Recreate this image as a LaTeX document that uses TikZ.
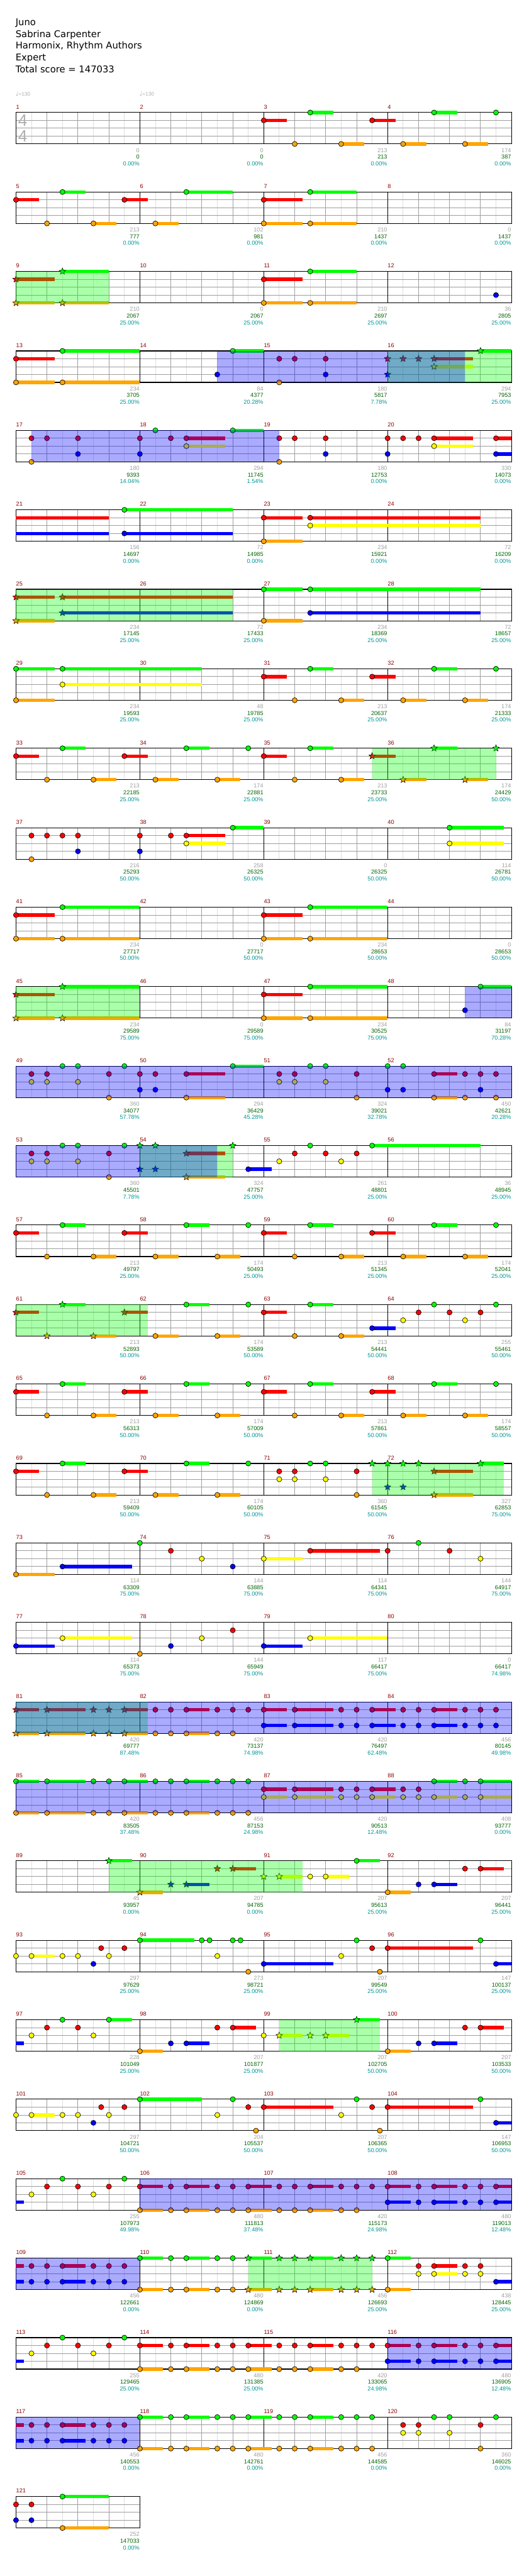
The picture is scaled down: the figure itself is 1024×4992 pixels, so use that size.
\documentclass[tikz,border=0pt]{standalone}
\usepackage{fontspec}
\setmainfont{Liberation Sans}
\newfontfamily\hdrfont{DejaVu Sans}
\usetikzlibrary{shapes.geometric}
\definecolor{lane0}{RGB}{0,255,0}
\definecolor{lane1}{RGB}{255,0,0}
\definecolor{lane2}{RGB}{255,255,0}
\definecolor{lane3}{RGB}{0,0,255}
\definecolor{lane4}{RGB}{255,165,0}
\definecolor{mred}{RGB}{139,0,0}
\definecolor{sgray}{RGB}{160,160,160}
\definecolor{sgreen}{RGB}{0,100,0}
\definecolor{steal}{RGB}{0,150,150}
\definecolor{tgray}{RGB}{175,175,175}
\tikzset{
 halfl/.style={draw=black!13, line width=0.75pt},
 beatl/.style={draw=black!38, line width=0.75pt},
 measl/.style={draw=black, line width=0.75pt},
 frame/.style={draw=black, line width=1pt},
 sus/.style={line width=4.9pt, line cap=butt},
 note/.style={circle, draw=black, line width=0.6pt, minimum size=7.4pt, inner sep=0pt},
 starnote/.style={star, star points=5, star point ratio=2.3, draw=black, line width=0.5pt, minimum size=10pt, inner sep=0pt},
 mnum/.style={anchor=base west, inner sep=0pt, text=mred, font=\fontsize{8.4}{10}\selectfont},
 scr/.style={anchor=base east, inner sep=0pt, font=\fontsize{8.4}{10}\selectfont},
 hdr/.style={anchor=base west, inner sep=0pt, font=\hdrfont\fontsize{13.5}{16}\selectfont},
}
\newcommand\setpos[3]{%
 \pgfmathsetmacro\gb{4*(#1-1)+#2}%
 \pgfmathtruncatemacro\rr{\gb/16}%
 \pgfmathsetmacro\px{31+60*(\gb-16*\rr)}%
 \pgfmathsetmacro\py{218+154*\rr+15.25*#3}}
\newcommand\staffrow[2]{%
 \pgfmathsetmacro\T{218+154*#1}%
 \pgfmathsetmacro\B{\T+61}%
 \pgfmathsetmacro\R{31+240*#2}%
 \pgfmathtruncatemacro\nb{4*#2-1}%
 \foreach \k in {0,...,\nb} {\draw[halfl] ({61+60*\k},\T) -- ({61+60*\k},\B);}%
 \foreach \k in {1,...,\nb} {\draw[beatl] ({31+60*\k},\T) -- ({31+60*\k},\B);}%
 \foreach \i in {1,2,3} {\draw[beatl] (31,{\T+15.25*\i}) -- (\R,{\T+15.25*\i});}%
 \foreach \j in {1,...,#2} {\draw[measl] ({31+240*\j},\T) -- ({31+240*\j},\B);}%
 \draw[frame] (31,\T) rectangle (\R,\B);}
\newcommand\ovl[4]{\fill[#1, fill opacity=0.333] (#3,{218+154*#2}) rectangle (#4,{279+154*#2});}
% patterns
\def\pA#1#2{#1/0/1/0.75/#2,#1/1/4/0/#2,#1/1.5/0/0.75/#2,#1/2.5/4/0.75/#2,#1/3.5/1/0.75/#2}
\def\pB#1#2{#1/0.5/4/0.75/#2,#1/1.5/0/0.75/#2,#1/2.5/4/0.75/#2,#1/3.5/0/0/#2}
\def\pC#1{#1/0.5/1/0/0,#1/1/1/0/0,#1/2/1/0/0,#1/2/3/0/0,#1/0.5/4/0/0}
\def\pD#1#2{#1/0/4/0.75/#2,#1/1/3/0/#2,#1/1.5/3/0.75/#2,#1/2.5/1/0/#2,#1/3/1/0.75/#2}
\def\pE#1#2#3#4#5#6{#1/0/#2/1.25/#6,#1/0/4/1.25/#6,#1/1.5/#3/#5/#6,#1/1.5/#4/#5/#6}
\def\pF#1{#1/0.5/1/0/0,#1/1/1/0/0,#1/3/1/0/0,#1/0.5/2/0/0,#1/1/2/0/0,#1/2/2/0/0,#1/1.5/0/0/0,#1/2/0/0/0,#1/3/4/0/0}
\def\pG#1{#1/0/2/0/0,#1/0.5/2/0.75/0,#1/1.5/2/0/0,#1/2/2/0/0,#1/2.5/3/0/0,#1/2.75/1/0/0,#1/3/2/0/0,#1/3.5/1/0/0}
\def\qa#1#2#3{#1/0/#2/0.75/#3,#1/1/#2/1.25/#3,#1/2.5/#2/0/#3,#1/3/#2/0/#3,#1/3.5/#2/0.75/#3}
\def\qn#1#2#3{#1/0.5/#2/0/#3,#1/1/#2/0/#3,#1/1.5/#2/0.75/#3,#1/2.5/#2/0/#3,#1/3/#2/0/#3}
\def\qb#1#2#3{\qn{#1}{#2}{#3},#1/3.5/#2/0/#3}
\def\qc#1#2#3{#1/0/#2/0.75/#3,#1/1/#2/0/#3,#1/1.5/#2/0.75/#3,#1/2.5/#2/0/#3,#1/3/#2/0/#3,#1/3.5/#2/0.75/#3}
\edef\notelist{%
\pA{3}{0},\pB{4}{0},%
\pA{5}{0},6/0.5/4/0.75/0,6/1.5/0/1.5/0,\pE{7}{1}{0}{4}{1.5}{0},%
\pE{9}{1}{0}{4}{1.5}{1},\pE{11}{1}{0}{4}{1.5}{0},12/3.5/3/0/0,%
\pE{13}{1}{0}{4}{2.5}{0},14/2.5/3/0/0,14/3/0/1/0,\pC{15},%
16/0/1/0/1,16/0/3/0/1,16/0.5/1/0/1,16/1/1/0/1,16/1.5/1/1.25/1,16/1.5/2/1.25/1,16/3/0/1/1,%
\pC{17},18/0/1/0/0,18/1/1/0/0,18/1.5/1/1.25/0,18/0/3/0/0,18/0.5/0/0/0,18/1.5/2/1.25/0,18/3/0/1/0,%
\pC{19},20/0/1/0/0,20/0.5/1/0/0,20/1/1/0/0,20/1.5/1/1.25/0,20/0/3/0/0,20/1.5/2/1.25/0,20/3.5/1/0.5/0,20/3.5/3/0.5/0,%
21/0/1/3/2,21/0/3/3/2,21/3.5/0/3.5/0,21/3.5/3/3.5/0,\pE{23}{1}{1}{2}{5.5}{0},%
\pE{25}{1}{1}{3}{5.5}{1},\pE{27}{0}{0}{3}{5.5}{0},%
\pE{29}{0}{0}{2}{4.5}{0},\pA{31}{0},\pB{32}{0},%
\pA{33}{0},\pB{34}{0},35/0/1/0.75/0,35/1/4/0/0,35/1.5/0/0.75/0,35/2.5/4/0.75/0,35/3.5/1/0.75/1,\pB{36}{1},%
37/0.5/1/0/0,37/1/1/0/0,37/1.5/1/0/0,37/2/1/0/0,37/2/3/0/0,37/0.5/4/0/0,%
38/0/1/0/0,38/1/1/0/0,38/1.5/1/1.25/0,38/0/3/0/0,38/1.5/2/1.25/0,38/3/0/1/0,40/2/0/1.75/0,40/2/2/1.75/0,%
\pE{41}{1}{0}{4}{2.5}{0},\pE{43}{1}{0}{4}{2.5}{0},%
\pE{45}{1}{0}{4}{2.5}{1},\pE{47}{1}{0}{4}{2.5}{0},48/2.5/3/0/0,48/3/0/1/0,%
\pF{49},49/3.5/0/0/0,50/0/1/0/0,50/0.5/1/0/0,50/1.5/1/1.25/0,50/0/3/0/0,50/0.5/3/0/0,50/1.5/4/1.25/0,50/3/0/1/0,%
\pF{51},52/0/0/0/0,52/0.5/0/0/0,52/0/3/0/0,52/0.5/3/0/0,52/1.5/1/0.75/0,52/1.5/4/0.75/0,52/2.5/1/0/0,52/3/1/0/0,52/3.5/1/0/0,52/3/3/0/0,52/2.5/4/0/0,52/3.5/4/0/0,%
\pF{53},53/3.5/0/0/0,54/0/0/0/1,54/0.5/0/0/1,54/0/3/0/1,54/0.5/3/0/1,54/1.5/1/1.25/1,54/1.5/4/1.25/1,54/3/0/0/1,54/3.5/3/0.75/0,%
55/0.5/2/0/0,55/1/1/0/0,55/1.5/0/0/0,55/2/1/0/0,55/2.5/2/0/0,55/3/1/0/0,55/3.5/0/3.5/0,%
\pA{57}{0},\pB{58}{0},\pA{59}{0},\pB{60}{0},%
\pA{61}{1},\pB{62}{0},63/0/1/0.75/0,63/1/4/0/0,63/1.5/0/0.75/0,63/2.5/4/0.75/0,63/3.5/3/0.75/0,%
64/0.5/2/0/0,64/1/1/0/0,64/1.5/0/0/0,64/2/1/0/0,64/2.5/2/0/0,64/3/1/0/0,64/3.5/0/0/0,%
\pA{65}{0},\pB{66}{0},\pA{67}{0},\pB{68}{0},%
\pA{69}{0},\pB{70}{0},\pF{71},71/3.5/0/0/1,%
72/0/0/0/1,72/0.5/0/0/1,72/1/0/0/1,72/0/3/0/1,72/0.5/3/0/1,72/1.5/1/1.25/1,72/1.5/4/1.25/1,72/3/0/0.75/1,%
73/0/4/1.25/0,73/1.5/3/2.25/0,74/0/0/0/0,74/1/1/0/0,74/2/2/0/0,74/3/3/0/0,%
75/0/2/1.25/0,75/1.5/1/2.25/0,76/0/1/0/0,76/1/0/0/0,76/2/1/0/0,76/3/2/0/0,%
77/0/3/1.25/0,77/1.5/2/2.25/0,78/0/4/0/0,78/1/3/0/0,78/2/2/0/0,78/3/1/0/0,79/0/3/1.25/0,79/1.5/2/2.5/0,%
\qa{81}{1}{1},\qa{81}{4}{1},\qb{82}{1}{0},\qn{82}{4}{0},\qa{83}{1}{0},\qa{83}{3}{0},\qb{84}{1}{0},\qb{84}{3}{0},%
\qa{85}{0}{0},\qa{85}{4}{0},\qb{86}{0}{0},\qb{86}{4}{0},\qa{87}{1}{0},\qa{87}{2}{0},%
88/0.5/1/0/0,88/1/1/0/0,88/0.5/2/0/0,88/1/2/0/0,88/1.5/0/0.75/0,88/1.5/2/0.75/0,88/2.5/0/0/0,88/2.5/2/0/0,88/3/0/1/0,88/3/2/1/0,%
89/3/0/0.75/1,\pD{90}{1},91/0/2/0/1,91/0.5/2/0.75/1,91/1.5/2/0/0,91/2/2/0.75/0,91/3/0/0.75/0,\pD{92}{0},%
\pG{93},94/0/0/1.75/0,94/2/0/0/0,94/2.25/0/0/0,94/2.5/2/0/0,94/3/0/0/0,94/3.25/0/0/0,94/3.5/4/0/0,%
95/0/3/2.25/0,95/2.5/2/0/0,95/3/0/0/0,95/3.5/1/0/0,95/3.75/4/0/0,96/0/1/2.75/0,96/3/0/0/0,96/3.5/3/0.5/0,%
97/0/3/0.25/2,97/0.5/2/0/0,97/1/1/0/0,97/1.5/0/0/0,97/2/1/0/0,97/2.5/2/0/0,97/3/0/0.75/0,\pD{98}{0},%
99/0/2/0/0,99/0.5/2/0.75/1,99/1.5/2/0/1,99/2/2/0.75/1,99/3/0/0.75/1,\pD{100}{0},%
\pG{101},102/0/0/2/0,102/2.5/2/0/0,102/3/0/0/0,102/3.5/1/0/0,102/3.75/4/0/0,%
103/0/1/2.25/0,103/2.5/2/0/0,103/3/0/0/0,103/3.5/1/0/0,103/3.75/4/0/0,104/0/1/2.75/0,104/3/0/0/0,104/3.5/3/0.5/0,%
105/0/3/0.25/2,105/0.5/2/0/0,105/1/1/0/0,105/1.5/0/0/0,105/2/1/0/0,105/2.5/2/0/0,105/3/1/0/0,105/3.5/0/0/0,%
\qc{106}{1}{0},\qc{106}{4}{0},\qb{107}{1}{0},\qn{107}{4}{0},\qc{108}{1}{0},\qc{108}{3}{0},%
109/0/1/0.25/2,109/0/3/0.25/2,\qb{109}{1}{0},\qb{109}{3}{0},%
110/0/0/0.75/0,110/1/0/0/0,110/1.5/0/0.75/0,110/2.5/0/0/0,110/3/0/0/0,110/3.5/0/0.75/1,%
110/0/4/0.75/0,110/1/4/0/0,110/1.5/4/0.75/0,110/2.5/4/0/0,110/3/4/0/0,110/3.5/4/0.75/1,%
\qb{111}{0}{1},\qb{111}{4}{1},%
112/0/0/0.75/0,112/0/4/0.75/0,112/1/1/0/0,112/1.5/1/0.75/0,112/2.5/1/0/0,112/3/1/0/0,112/1/2/0/0,112/1.5/2/0.75/0,112/2.5/2/0/0,112/3/2/0/0,112/3.5/3/0.5/0,%
113/0/3/0.25/2,113/0.5/2/0/0,113/1/1/0/0,113/1.5/0/0/0,113/2/1/0/0,113/2.5/2/0/0,113/3/1/0/0,113/3.5/0/0/0,%
\qc{114}{1}{0},\qc{114}{4}{0},\qb{115}{1}{0},\qn{115}{4}{0},\qc{116}{1}{0},\qc{116}{3}{0},%
117/0/1/0.25/2,117/0/3/0.25/2,\qb{117}{1}{0},\qb{117}{3}{0},%
\qc{118}{0}{0},\qc{118}{4}{0},\qb{119}{0}{0},\qb{119}{4}{0},%
120/0.5/1/0/0,120/1/1/0/0,120/0.5/2/0/0,120/1/2/0/0,120/1.5/0/0/0,120/2/0/0/0,120/2/2/0/0,120/3/1/0/0,120/3/4/0/0,120/3.5/0/0/0,%
121/0/1/0/0,121/0.5/1/0/0,121/0/3/0/0,121/0.5/3/0/0,121/1.5/0/1.5/0,121/1.5/4/1.5/0}
\def\scorelist{1/0/0/0.00,2/0/0/0.00,3/213/213/0.00,4/174/387/0.00,5/213/777/0.00,6/102/981/0.00,7/210/1437/0.00,8/0/1437/0.00,%
9/210/2067/25.00,10/0/2067/25.00,11/210/2697/25.00,12/36/2805/25.00,13/234/3705/25.00,14/84/4377/20.28,15/180/5817/7.78,16/294/7953/25.00,%
17/180/9393/14.04,18/294/11745/1.54,19/180/12753/0.00,20/330/14073/0.00,21/156/14697/0.00,22/72/14985/0.00,23/234/15921/0.00,24/72/16209/0.00,%
25/234/17145/25.00,26/72/17433/25.00,27/234/18369/25.00,28/72/18657/25.00,29/234/19593/25.00,30/48/19785/25.00,31/213/20637/25.00,32/174/21333/25.00,%
33/213/22185/25.00,34/174/22881/25.00,35/213/23733/25.00,36/174/24429/50.00,37/216/25293/50.00,38/258/26325/50.00,39/0/26325/50.00,40/114/26781/50.00,%
41/234/27717/50.00,42/0/27717/50.00,43/234/28653/50.00,44/0/28653/50.00,45/234/29589/75.00,46/0/29589/75.00,47/234/30525/75.00,48/84/31197/70.28,%
49/360/34077/57.78,50/294/36429/45.28,51/324/39021/32.78,52/450/42621/20.28,53/360/45501/7.78,54/324/47757/25.00,55/261/48801/25.00,56/36/48945/25.00,%
57/213/49797/25.00,58/174/50493/25.00,59/213/51345/25.00,60/174/52041/25.00,61/213/52893/50.00,62/174/53589/50.00,63/213/54441/50.00,64/255/55461/50.00,%
65/213/56313/50.00,66/174/57009/50.00,67/213/57861/50.00,68/174/58557/50.00,69/213/59409/50.00,70/174/60105/50.00,71/360/61545/50.00,72/327/62853/75.00,%
73/114/63309/75.00,74/144/63885/75.00,75/114/64341/75.00,76/144/64917/75.00,77/114/65373/75.00,78/144/65949/75.00,79/117/66417/75.00,80/0/66417/74.98,%
81/420/69777/87.48,82/420/73137/74.98,83/420/76497/62.48,84/456/80145/49.98,85/420/83505/37.48,86/456/87153/24.98,87/420/90513/12.48,88/408/93777/0.00,%
89/45/93957/0.00,90/207/94785/0.00,91/207/95613/25.00,92/207/96441/25.00,93/297/97629/25.00,94/273/98721/25.00,95/207/99549/25.00,96/147/100137/25.00,%
97/228/101049/25.00,98/207/101877/25.00,99/207/102705/50.00,100/207/103533/50.00,101/297/104721/50.00,102/204/105537/50.00,103/207/106365/50.00,104/147/106953/50.00,%
105/255/107973/49.98,106/480/111813/37.48,107/420/115173/24.98,108/480/119013/12.48,109/456/122661/0.00,110/480/124869/0.00,111/456/126693/25.00,112/438/128445/25.00,%
113/255/129465/25.00,114/480/131385/25.00,115/420/133065/24.98,116/480/136905/12.48,117/456/140553/0.00,118/480/142761/0.00,119/456/144585/0.00,120/360/146025/0.00,%
121/252/147033/0.00}
\begin{document}
\begin{tikzpicture}[x=0.75pt,y=-0.75pt]
\fill[white] (0,0) rectangle (1024,4992);
\useasboundingbox (0,0) rectangle (1024,4992);
% header
\node[hdr] (title) at (30,49) {Juno};
\node[hdr] (artist) at (30,72) {Sabrina Carpenter};
\node[hdr] (charter) at (30,95) {Harmonix, Rhythm Authors};
\node[hdr] (diff) at (30,118) {Expert};
\node[hdr] (total) at (30,141) {Total score = 147033};
% tempo
\node[anchor=base west, inner sep=0pt, text=tgray, font=\fontsize{7.5}{9}\selectfont] (tempo1) at (30,186) {{\hdrfont\fontsize{9}{9}\selectfont ♩}=130};
\node[anchor=base west, inner sep=0pt, text=tgray, font=\fontsize{7.5}{9}\selectfont] (tempo2) at (270,186) {{\hdrfont\fontsize{9}{9}\selectfont ♩}=130};
% staves
\foreach \r in {0,...,29} {\staffrow{\r}{4}}
\staffrow{30}{1}
% time signature
\node[text=tgray, inner sep=0pt, font=\fontsize{24}{24}\selectfont] (tsA) at (44,233.5) {4};
\node[text=tgray, inner sep=0pt, font=\fontsize{24}{24}\selectfont] (tsB) at (44,263.5) {4};
% sustains
\foreach \m/\b/\l/\s/\k in \notelist {
 \setpos{\m}{\b}{\l}
 \pgfmathsetmacro\ex{min(\px+60*\s,991)}
 \ifdim\s pt>0pt \draw[sus, draw=lane\l] (\px,\py) -- (\ex,\py); \fi
}
% heads
\foreach \m/\b/\l/\s/\k in \notelist {
 \ifnum\k=2\relax\else
  \setpos{\m}{\b}{\l}
  \ifnum\k=1\relax
   \node[starnote, fill=lane\l] at (\px,\py) {};
  \else
   \node[note, fill=lane\l] at (\px,\py) {};
  \fi
 \fi
}
% star power overlays
\ovl{lane0}{2}{31}{211}
\ovl{lane0}{3}{751}{991}
\ovl{lane0}{6}{31}{451}
\ovl{lane0}{8}{721}{961}
\ovl{lane0}{11}{31}{271}
\ovl{lane0}{13}{271}{451}
\ovl{lane0}{15}{31}{286}
\ovl{lane0}{17}{721}{976}
\ovl{lane0}{20}{31}{286}
\ovl{lane0}{22}{211}{586}
\ovl{lane0}{24}{541}{736}
\ovl{lane0}{27}{481}{721}
% solo overlays
\ovl{lane3}{3}{421}{901}
\ovl{lane3}{4}{61}{541}
\ovl{lane3}{11}{901}{991}
\ovl{lane3}{12}{31}{991}
\ovl{lane3}{13}{31}{421}
\ovl{lane3}{20}{31}{991}
\ovl{lane3}{21}{31}{991}
\ovl{lane3}{26}{271}{991}
\ovl{lane3}{27}{31}{271}
\ovl{lane3}{28}{751}{991}
\ovl{lane3}{29}{31}{271}
% measure numbers and scores
\foreach \m/\g/\c/\p in \scorelist {
 \pgfmathtruncatemacro\rr{(\m-1)/4}
 \pgfmathtruncatemacro\cc{\m-1-4*\rr}
 \pgfmathsetmacro\xa{31+240*\cc}
 \pgfmathsetmacro\xb{\xa+239.5}
 \pgfmathsetmacro\T{218+154*\rr}
 \node[mnum] at (\xa,{\T-7}) {\m};
 \node[scr, text=sgray] at (\xb,{\T+77}) {\g};
 \node[scr, text=sgreen] at (\xb,{\T+90}) {\c};
 \node[scr, text=steal] at (\xb,{\T+103}) {\p\%};
}
\end{tikzpicture}
\end{document}
